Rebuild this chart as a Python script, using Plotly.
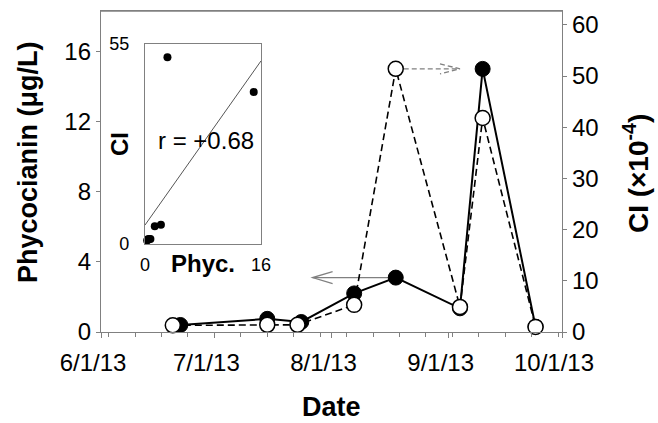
import numpy as np
import plotly.graph_objects as go

# ---------------- data ----------------
phyc_dates = ['2013-06-22', '2013-07-15', '2013-07-24', '2013-08-07',
              '2013-08-18', '2013-09-04', '2013-09-10', '2013-09-24']
phyc_vals = [0.4, 0.75, 0.57, 2.2, 3.1, 1.35, 15.0, 0.3]

ci_dates = ['2013-06-20', '2013-07-15', '2013-07-23', '2013-08-07',
            '2013-08-18', '2013-09-04', '2013-09-10', '2013-09-24']
ci_vals = [1.3, 1.4, 1.4, 5.3, 51.4, 4.9, 41.8, 1.0]

x_tick_dates = ['2013-06-01', '2013-07-01', '2013-08-01', '2013-09-01', '2013-10-01']
x_tick_labels = ['6/1/13', '7/1/13', '8/1/13', '9/1/13', '10/1/13']
left_ticks = [0, 4, 8, 12, 16]
right_ticks = [0, 10, 20, 30, 40, 50, 60]

# arrows: tail at the 8/18 points, heads at these dates
phyc_arrow_head = '2013-07-27'
ci_arrow_head = '2013-09-04'
arrow_idx = 4

r_label = 'r = +0.68'

FONT = 'Arial, Liberation Sans, sans-serif'
GRAY = '#808080'

fig = go.Figure()

# main series
fig.add_trace(go.Scatter(
    x=phyc_dates, y=phyc_vals, mode='lines+markers',
    line=dict(color='black', width=2),
    marker=dict(symbol='circle', size=15, color='black', line=dict(color='black', width=1)),
    xaxis='x', yaxis='y', cliponaxis=False, showlegend=False))

fig.add_trace(go.Scatter(
    x=ci_dates, y=ci_vals, mode='lines+markers',
    line=dict(color='black', width=1.6, dash='7px,4px'),
    marker=dict(symbol='circle', size=15, color='white', line=dict(color='black', width=1.5)),
    xaxis='x', yaxis='y2', cliponaxis=False, showlegend=False))

# inset scatter: CI vs phycocyanin
fig.add_trace(go.Scatter(
    x=phyc_vals, y=ci_vals, mode='markers',
    marker=dict(size=8, color='black'),
    xaxis='x2', yaxis='y3', cliponaxis=False, showlegend=False))

slope, intercept = np.polyfit(phyc_vals, ci_vals, 1)
fit_x = np.array([0.0, 16.0])
fig.add_trace(go.Scatter(
    x=fit_x, y=slope * fit_x + intercept, mode='lines',
    line=dict(color='#555555', width=1),
    xaxis='x2', yaxis='y3', showlegend=False))

tickfont = dict(family=FONT, size=24, color='black')

fig.update_layout(
    width=658, height=423,
    margin=dict(l=101, r=96, t=11, b=91, autoexpand=False),
    paper_bgcolor='white', plot_bgcolor='white',
    font=dict(family=FONT, color='black'),
    xaxis=dict(
        type='date', range=['2013-06-01', '2013-10-01'],
        tickmode='array', tickvals=x_tick_dates, ticktext=x_tick_labels,
        ticks='outside', ticklen=5, tickcolor=GRAY, tickwidth=1,
        minor=dict(ticks='outside', ticklen=4, tickcolor=GRAY, tickwidth=1,
                   dtick=7 * 86400000, tick0='2013-06-03'),
        showline=True, linecolor=GRAY, linewidth=1.3, mirror=True,
        showgrid=False, zeroline=False, tickfont=tickfont, automargin=False,
        ticklabelshift=-8, ticklabelstandoff=4, domain=[0, 1]),
    yaxis=dict(
        range=[0, 18.3], tickvals=left_ticks,
        ticks='outside', ticklen=4, tickcolor=GRAY, automargin=False,
        showline=True, linecolor=GRAY, linewidth=1.3,
        showgrid=False, zeroline=False, tickfont=tickfont),
    yaxis2=dict(
        range=[0, 62.7], tickvals=right_ticks, overlaying='y', side='right',
        ticks='outside', ticklen=4, tickcolor=GRAY, automargin=False,
        showline=True, linecolor=GRAY, linewidth=1.3,
        showgrid=False, zeroline=False, tickfont=tickfont, anchor='x'),
    xaxis2=dict(
        domain=[0.0954, 0.347], anchor='y3', range=[0, 16], automargin=False,
        tickvals=[0, 16], ticks='', showline=True, linecolor=GRAY, linewidth=1.3,
        mirror=True, showgrid=False, zeroline=False,
        tickfont=dict(family=FONT, size=18, color='black'), ticklabelstandoff=4),
    yaxis3=dict(
        domain=[0.274, 0.897], anchor='x2', range=[0, 55], automargin=False,
        tickvals=[0, 55], ticks='', showline=True, linecolor=GRAY, linewidth=1.3,
        mirror=True, showgrid=False, zeroline=False,
        tickfont=dict(family=FONT, size=18, color='black'), ticklabelstandoff=11),
)

# top frame line of the main plot
fig.add_shape(type='line', xref='paper', yref='paper', x0=0, x1=1, y0=1, y1=1,
              line=dict(color=GRAY, width=1.3))

# titles as annotations
fig.add_annotation(xref='paper', yref='paper', x=0.5, y=0, yshift=-75,
                   xanchor='center', yanchor='middle',
                   text='<b>Date</b>', showarrow=False,
                   font=dict(family=FONT, size=27, color='black'))
fig.add_annotation(xref='paper', yref='paper', x=-0.1584, y=0.5296,
                   xanchor='center', yanchor='middle',
                   text='<b>Phycocianin (μg/L)</b>', textangle=-90, showarrow=False,
                   font=dict(family=FONT, size=27, color='black'))
fig.add_annotation(xref='paper', yref='paper', x=1.1605, y=0.495,
                   xanchor='center', yanchor='middle',
                   text='<b>CI (×10<sup>-4</sup>)</b>', textangle=-90, showarrow=False,
                   font=dict(family=FONT, size=28, color='black'))
# inset titles
fig.add_annotation(xref='x2 domain', yref='y3 domain', x=0.5, y=0, yshift=-19,
                   xanchor='center', yanchor='middle',
                   text='<b>Phyc.</b>', showarrow=False,
                   font=dict(family=FONT, size=24, color='black'))
fig.add_annotation(xref='x2 domain', yref='y3 domain', x=0, y=0.5, xshift=-26,
                   xanchor='center', yanchor='middle',
                   text='<b>CI</b>', textangle=-90, showarrow=False,
                   font=dict(family=FONT, size=24, color='black'))
fig.add_annotation(xref='x2 domain', yref='y3 domain', x=0.5, y=0.5, yshift=4, xshift=3,
                   xanchor='center', yanchor='middle',
                   text=r_label, showarrow=False,
                   font=dict(family=FONT, size=24, color='black'))

# arrows (line + open chevron head)
fig.add_shape(type='line', xref='x', yref='y', layer='below',
              x0=phyc_dates[arrow_idx], x1=phyc_arrow_head,
              y0=phyc_vals[arrow_idx], y1=phyc_vals[arrow_idx],
              line=dict(color=GRAY, width=1.3))
fig.add_shape(type='path', xref='x', yref='y', xsizemode='pixel', ysizemode='pixel',
              xanchor=phyc_arrow_head, yanchor=phyc_vals[arrow_idx],
              path='M20,6 L0,0 L20,-6', line=dict(color=GRAY, width=1.3))
fig.add_shape(type='line', xref='x', yref='y2', layer='below',
              x0=ci_dates[arrow_idx], x1=ci_arrow_head,
              y0=ci_vals[arrow_idx], y1=ci_vals[arrow_idx],
              line=dict(color=GRAY, width=1.3, dash='5px,3px'))
fig.add_shape(type='path', xref='x', yref='y2', xsizemode='pixel', ysizemode='pixel',
              xanchor=ci_arrow_head, yanchor=ci_vals[arrow_idx],
              path='M-20,5 L0,0 L-20,-5', line=dict(color=GRAY, width=1.3, dash='5px,3px'))

fig.write_html('out.html', config={'displayModeBar': False},
               post_script="document.body.style.margin='0';document.body.style.padding='0';")
